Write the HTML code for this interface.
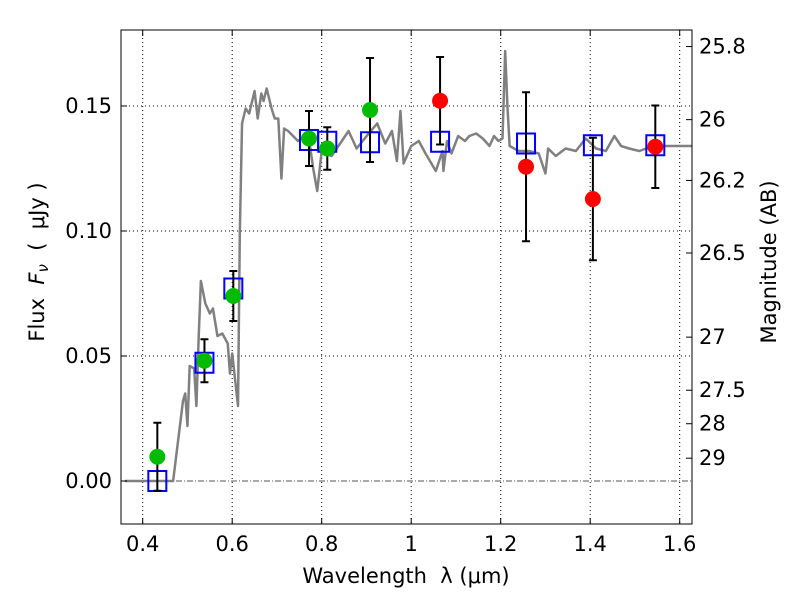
<!DOCTYPE html>
<html><head><meta charset="utf-8"><style>
body{margin:0;background:#fff;}
svg text{font-family:"DejaVu Sans","Liberation Sans",sans-serif;fill:#000;white-space:pre;}
.tk{font-size:21px;}
.ti{font-size:21px;}
</style></head><body>
<svg id="c" width="800" height="600" xmlns="http://www.w3.org/2000/svg"></svg>
<script>
const specLam=[0.36,0.468,0.49,0.495,0.50,0.505,0.515,0.52,0.525,0.53,0.54,0.55,0.557,0.567,0.578,0.59,0.595,0.60,0.613,0.617,0.622,0.63,0.638,0.65,0.657,0.665,0.67,0.677,0.688,0.695,0.703,0.71,0.716,0.725,0.747,0.77,0.781,0.79,0.8,0.822,0.845,0.86,0.878,0.905,0.924,0.942,0.957,0.968,0.976,0.983,1.0,1.017,1.032,1.055,1.07,1.072,1.08,1.09,1.105,1.12,1.13,1.145,1.16,1.175,1.185,1.195,1.204,1.21,1.215,1.22,1.24,1.263,1.285,1.3,1.306,1.323,1.345,1.368,1.39,1.413,1.435,1.454,1.469,1.487,1.51,1.54,1.57,1.6,1.634];
const specFlux=[0,0,0.032,0.035,0.022,0.046,0.045,0.030,0.057,0.080,0.071,0.067,0.069,0.058,0.059,0.055,0.043,0.051,0.030,0.099,0.143,0.149,0.147,0.156,0.145,0.155,0.152,0.157,0.149,0.145,0.145,0.121,0.141,0.140,0.136,0.139,0.125,0.116,0.132,0.130,0.136,0.140,0.133,0.139,0.143,0.135,0.140,0.128,0.148,0.127,0.134,0.136,0.131,0.124,0.132,0.124,0.136,0.131,0.138,0.136,0.138,0.139,0.137,0.134,0.138,0.136,0.137,0.172,0.150,0.134,0.132,0.132,0.131,0.123,0.133,0.130,0.133,0.132,0.137,0.133,0.132,0.138,0.134,0.133,0.132,0.134,0.134,0.134,0.134];
const greenLam=[0.4327,0.538,0.6025,0.7716,0.8125,0.908];
const greenFlux=[0.0097,0.0481,0.074,0.137,0.133,0.1484];
const greenErr=[0.0136,0.0086,0.010,0.011,0.0085,0.0208];
const redLam=[1.0645,1.2566,1.406,1.5455];
const redFlux=[0.1521,0.1257,0.1128,0.1337];
const redErr=[0.0175,0.0298,0.0245,0.0165];
const modelLam=[0.4327,0.538,0.6025,0.7716,0.8125,0.908,1.0645,1.2566,1.406,1.5455];
const modelFlux=[0.0,0.0473,0.077,0.1364,0.1357,0.1355,0.1357,0.135,0.1343,0.1343];
const xTicks=[0.4,0.6,0.8,1.0,1.2,1.4,1.6];
const xTickLabels=["0.4","0.6","0.8","1","1.2","1.4","1.6"];
const yTicks=[0,0.05,0.10,0.15];
const yTickLabels=["0.00","0.05","0.10","0.15"];
const magTicks=[25.8,26,26.2,26.5,27,27.5,28,29];
const magTickLabels=["25.8","26","26.2","26.5","27","27.5","28","29"];

const L=121,R=692,T=30,B=524;
const X=v=>142.7+(v-0.4)*447.5;
const Y=v=>481-v*2500;
const magToFlux=m=>Math.pow(10,(23.9-m)/2.5);
const svg=document.getElementById('c');
const NS='http://www.w3.org/2000/svg';
function mk(tag,attrs,parent){const e=document.createElementNS(NS,tag);for(const k in attrs)e.setAttribute(k,attrs[k]);(parent||svg).appendChild(e);return e;}
const clip=mk('clipPath',{id:'pc'});mk('rect',{x:L,y:T,width:R-L,height:B-T},clip);
const g=mk('g',{'clip-path':'url(#pc)'});
xTicks.forEach(v=>{const e=mk('line',{x1:X(v),x2:X(v),y1:T,y2:B,stroke:'#000','stroke-width':1,'stroke-dasharray':'1,3'},g);

});
yTicks.forEach(v=>{if(v===0)return;const e=mk('line',{x1:L,x2:R,y1:Y(v),y2:Y(v),stroke:'#000','stroke-width':1,'stroke-dasharray':'1,3'},g);

});
const zl=mk('line',{x1:L,x2:R,y1:Y(0),y2:Y(0),stroke:'#555','stroke-width':1,'stroke-dasharray':'6,2,1,2'},g);


const sp=mk('polyline',{points:specLam.map((l,i)=>X(l)+','+Y(specFlux[i])).join(' '),fill:'none',stroke:'#808080','stroke-width':2.5,'stroke-linejoin':'round'},g);


modelLam.forEach((l,i)=>{const s=mk('rect',{x:X(l)-9,y:Y(modelFlux[i])-10,width:18,height:20,fill:'none',stroke:'#0000ff','stroke-width':2},g);

});
function pts(lams,fl,er,color,name){lams.forEach((l,i)=>{const x=X(l),y0=Y(fl[i]-er[i]),y1=Y(fl[i]+er[i]);
const eb=mk('g',{},g);


mk('line',{x1:x,x2:x,y1:y0,y2:y1,stroke:'#000','stroke-width':2},eb);
mk('line',{x1:x-4,x2:x+4,y1:y0,y2:y0,stroke:'#000','stroke-width':2},eb);
mk('line',{x1:x-4,x2:x+4,y1:y1,y2:y1,stroke:'#000','stroke-width':2},eb);
const c=mk('circle',{cx:x,cy:Y(fl[i]),r:8,fill:color},g);

});}
pts(greenLam,greenFlux,greenErr,'#00bb00','detection');
pts(redLam,redFlux,redErr,'#ff0000','nircam');
const fr=mk('rect',{x:L,y:T,width:R-L,height:B-T,fill:'none',stroke:'#000','stroke-width':1});


xTicks.forEach((v,i)=>{const x=X(v);mk('line',{x1:x,x2:x,y1:B,y2:B-6,stroke:'#000'});mk('line',{x1:x,x2:x,y1:T,y2:T+6,stroke:'#000'});
const t=mk('text',{x:x,y:B+27,class:'tk','text-anchor':'middle'});t.textContent=xTickLabels[i];

});
yTicks.forEach((v,i)=>{const y=Y(v);mk('line',{x1:L,x2:L+6,y1:y,y2:y,stroke:'#000'});
const t=mk('text',{x:L-9,y:y+7,class:'tk','text-anchor':'end'});t.textContent=yTickLabels[i];

});
magTicks.forEach((m,i)=>{const y=Y(magToFlux(m));mk('line',{x1:R-6,x2:R,y1:y,y2:y,stroke:'#000'});
const t=mk('text',{x:R+7,y:y+7,class:'tk'});t.textContent=magTickLabels[i];

});
const xt=mk('text',{x:406,y:583,class:'ti','text-anchor':'middle'});xt.textContent='Wavelength  λ (μm)';


const yt=mk('text',{x:0,y:0,class:'ti','text-anchor':'middle',transform:'translate(44,262) rotate(-90)'});yt.innerHTML='Flux  <tspan font-style="italic">F</tspan><tspan font-style="italic" style="font-size:15px" dy="4">ν</tspan><tspan dy="-4">  (  μJy )</tspan>';


const rt=mk('text',{x:0,y:0,class:'ti','text-anchor':'middle',transform:'translate(776,262) rotate(-90)'});rt.textContent='Magnitude (AB)';


</script>
</body></html>
